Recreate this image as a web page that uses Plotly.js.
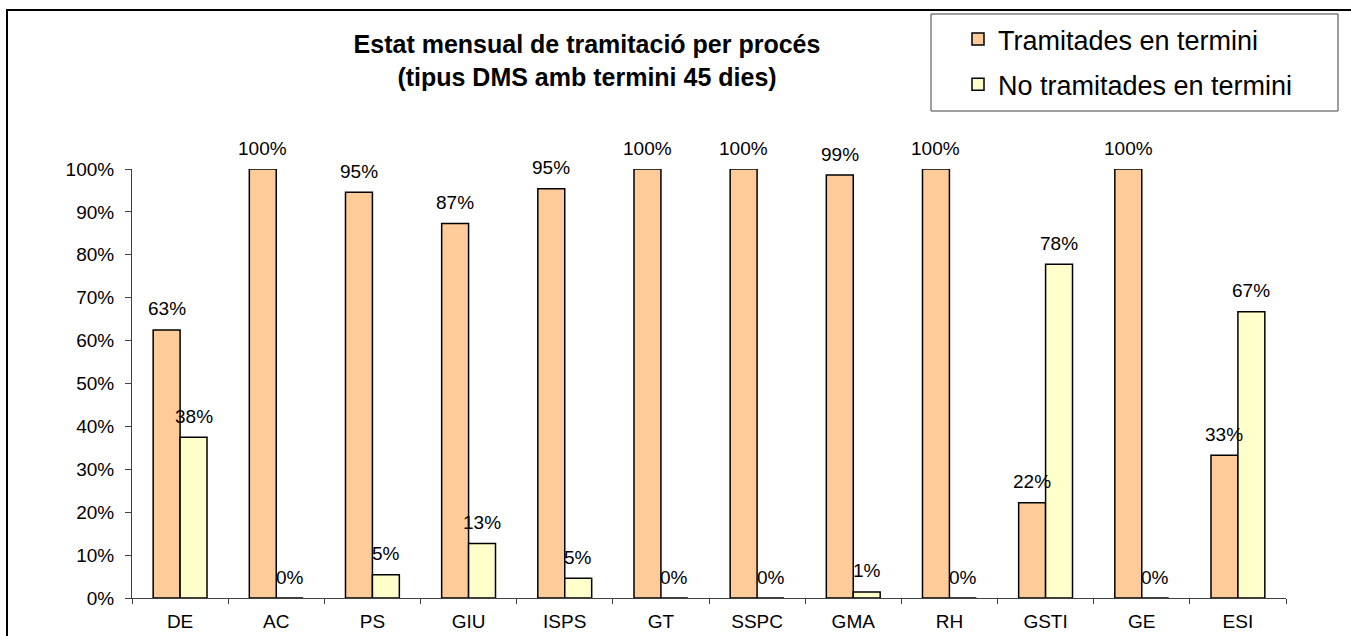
<!DOCTYPE html>
<html>
<head>
<meta charset="utf-8">
<script src="https://cdn.plot.ly/plotly-3.0.1.min.js"></script>
<style>html,body{margin:0;padding:0;background:#fff;}#chart{width:1351px;height:636px;}</style>
</head>
<body>
<div id="chart"></div>
<script>
const categories = ['DE','AC','PS','GIU','ISPS','GT','SSPC','GMA','RH','GSTI','GE','ESI'];
const tramitades = [62.5,100,94.6,87.3,95.4,100,100,98.6,100,22.2,100,33.3];
const noTramitades = [37.5,0,5.4,12.7,4.6,0,0,1.4,0,77.8,0,66.7];
const seriesNames = ['Tramitades en termini','No tramitades en termini'];
const titleText = 'Estat mensual de tramitació per procés<br>(tipus DMS amb termini 45 dies)';

const FONT = 'Liberation Sans, Arial, sans-serif';
const W = 1351, H = 636;
const L = 132, R = 65, T = 169, B = 38;
const pw = W - L - R, ph = H - T - B;
const px = v => (v - L) / pw;          // pixel -> paper x
const py = v => (H - B - v) / ph;      // pixel -> paper y

const traces = [
  {type:'bar', name:seriesNames[0], x:categories, y:tramitades, legendgroup:'a',
   marker:{color:'#FFCC99', line:{color:'#000', width:1.5}}, hoverinfo:'x+y'},
  {type:'bar', name:seriesNames[1], x:categories, y:noTramitades, legendgroup:'b',
   marker:{color:'#FFFFCC', line:{color:'#000', width:1.5}}, hoverinfo:'x+y'}
];

const annotations = [];
[tramitades, noTramitades].forEach((arr, s) => {
  arr.forEach((v, i) => {
    annotations.push({x:categories[i], y:v, xref:'x', yref:'y', text:Math.round(v)+'%',
      showarrow:false, xshift: s === 0 ? -13.5 : 13.5, yshift:21, yanchor:'middle',
      font:{family:FONT, size:19, color:'#000'}});
  });
});

const layout = {
  width:W, height:H,
  margin:{l:L, r:R, t:T, b:B, pad:0},
  paper_bgcolor:'#fff', plot_bgcolor:'#fff',
  font:{family:FONT, color:'#000'},
  title:{text:titleText, font:{family:FONT, size:25, color:'#000', weight:'bold'},
         xref:'paper', x:px(587), xanchor:'center', yref:'container', y:1-53/H, yanchor:'top'},
  barmode:'group', bargap:0.44, bargroupgap:0,
  xaxis:{type:'category', showline:true, linecolor:'#404040', linewidth:1,
         ticks:'outside', tickson:'boundaries', ticklen:5, tickcolor:'#404040',
         tickfont:{family:FONT, size:19, color:'#000'}, ticklabelstandoff:6,
         showgrid:false, zeroline:false, fixedrange:true},
  yaxis:{range:[0,100], dtick:10, ticksuffix:'%', showline:true, linecolor:'#404040', linewidth:1,
         ticks:'outside', ticklen:6, tickcolor:'#404040', ticklabelstandoff:7,
         tickfont:{family:FONT, size:19, color:'#000'},
         showgrid:false, zeroline:false, fixedrange:true},
  showlegend:true,
  legend:{x:px(958), xanchor:'left', y:py(15), yanchor:'top', orientation:'v',
          traceorder:'grouped', tracegroupgap:7, bgcolor:'rgba(0,0,0,0)', borderwidth:0,
          font:{family:FONT, size:27, color:'#000'}},
  shapes:[
    {type:'rect', xref:'paper', yref:'paper', x0:px(931), x1:px(1338), y0:py(111), y1:py(14),
     line:{color:'#404040', width:1}, fillcolor:'rgba(0,0,0,0)', layer:'below'},
    {type:'rect', xref:'paper', yref:'paper', x0:px(7), x1:px(1420), y0:py(700), y1:py(10),
     line:{color:'#000', width:2}, fillcolor:'rgba(0,0,0,0)', layer:'below'}
  ],
  annotations:annotations
};

Plotly.newPlot('chart', traces, layout, {displayModeBar:false, staticPlot:true});
</script>
</body>
</html>
